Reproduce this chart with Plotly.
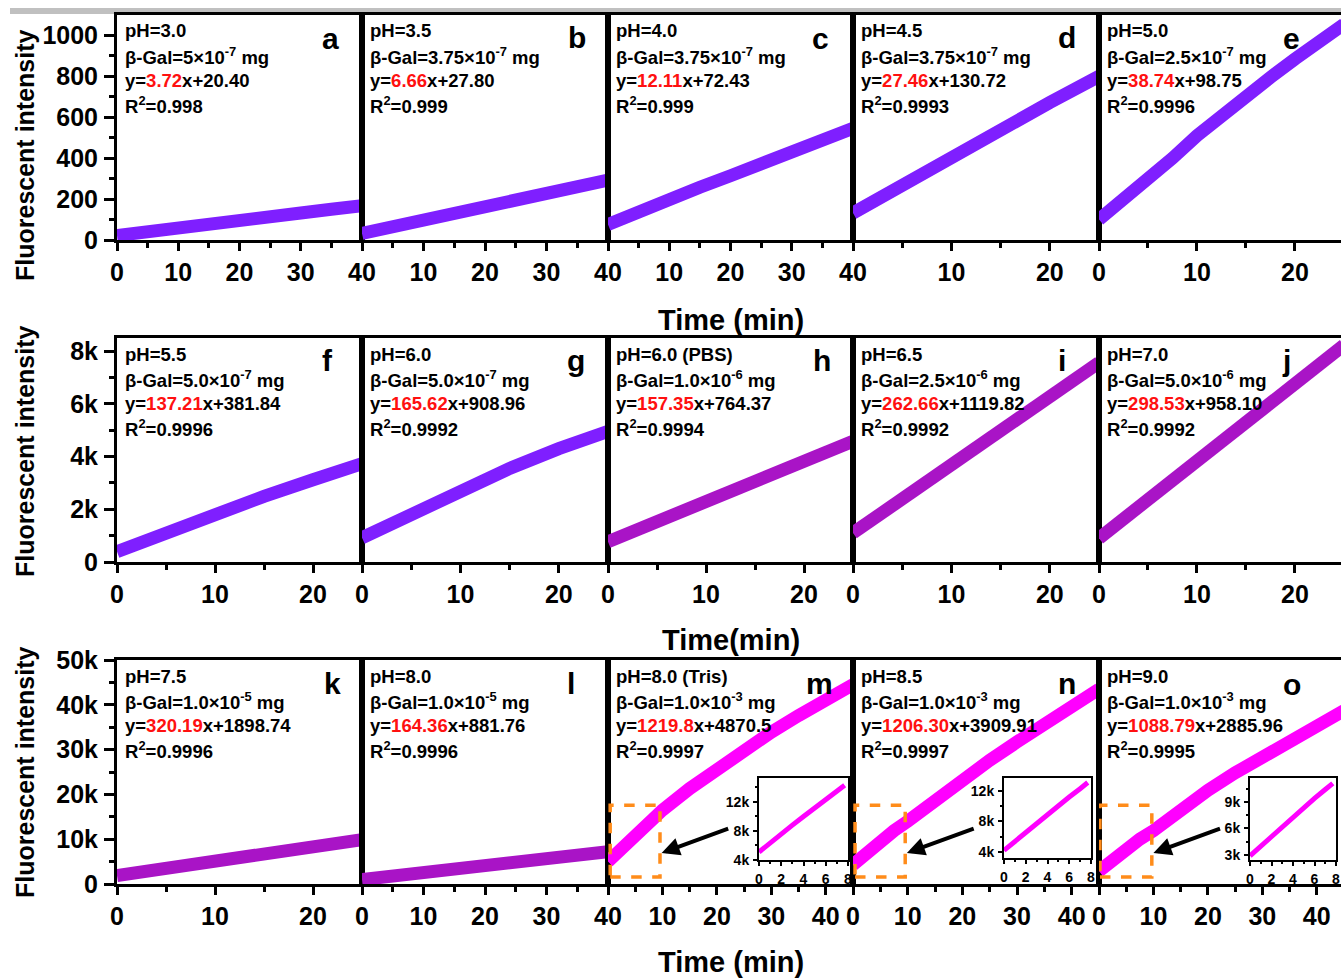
import plotly.graph_objects as go

W, H = 1341, 978

# ---------------- data (time in min, fluorescence intensity) ----------------
t40 = [0, 5, 10, 15, 20, 25, 30, 35, 40]
t25 = [0, 5, 10, 15, 20, 25]
t45 = [0, 2.5, 5, 7.5, 10, 15, 20, 25, 30, 35, 40, 45]
t_e = [0, 1, 2, 3, 4, 5, 7.5, 10, 12.5, 15, 17.5, 20, 22.5, 25]
t_d = [0, 5, 10, 15, 20, 25]
t_inset = [0, 1, 2, 3, 4, 5, 6, 7, 7.7]

y_a = [22, 38, 57, 76, 95, 113, 132, 150, 168]
y_b = [32, 66, 100, 132, 164, 197, 230, 262, 293]
y_c = [76, 142, 200, 258, 314, 370, 430, 490, 546]
y_d = [132, 270, 405, 540, 672, 800]
y_e = [100, 140, 185, 215, 245, 285, 400, 510, 610, 705, 795, 885, 970, 1055]

y_f = [395, 1125, 1820, 2490, 3120, 3735]
y_g = [920, 1840, 2720, 3550, 4300, 4960]
y_h = [770, 1540, 2290, 3030, 3780, 4580]
y_i = [1100, 2400, 3720, 5000, 6290, 7570]
y_j = [900, 2380, 3850, 5320, 6780, 8230]

y_k = [1900, 3500, 5100, 6700, 8300, 9900]
y_l = [1000, 1800, 2600, 3400, 4200, 5000, 5700, 6400, 7200]
y_m = [5000, 8100, 11100, 13900, 16500, 21300, 25800, 30000, 33900, 37600, 41100, 44500]
y_n = [4300, 7000, 9600, 11900, 14000, 18800, 23300, 27600, 31700, 35700, 39600, 43500]
y_o = [2900, 5500, 7900, 10000, 11900, 16600, 20900, 24800, 28500, 32000, 35400, 38700]

# early-time zoom (0-8 min) for m, n, o
yin_m = [5100, 6400, 7600, 8800, 10000, 11200, 12300, 13500, 14300]
yin_n = [4200, 5400, 6600, 7800, 8900, 10000, 11200, 12300, 13100]
yin_o = [2900, 4000, 5100, 6200, 7300, 8400, 9400, 10400, 11100]

# fit labels
ph = ["3.0", "3.5", "4.0", "4.5", "5.0",
      "5.5", "6.0", "6.0 (PBS)", "6.5", "7.0",
      "7.5", "8.0", "8.0 (Tris)", "8.5", "9.0"]
gal = ["5×10<sup>-7</sup>", "3.75×10<sup>-7</sup>", "3.75×10<sup>-7</sup>", "3.75×10<sup>-7</sup>", "2.5×10<sup>-7</sup>",
       "5.0×10<sup>-7</sup>", "5.0×10<sup>-7</sup>", "1.0×10<sup>-6</sup>", "2.5×10<sup>-6</sup>", "5.0×10<sup>-6</sup>",
       "1.0×10<sup>-5</sup>", "1.0×10<sup>-5</sup>", "1.0×10<sup>-3</sup>", "1.0×10<sup>-3</sup>", "1.0×10<sup>-3</sup>"]
slope = ["3.72", "6.66", "12.11", "27.46", "38.74",
         "137.21", "165.62", "157.35", "262.66", "298.53",
         "320.19", "164.36", "1219.8", "1206.30", "1088.79"]
icpt = ["20.40", "27.80", "72.43", "130.72", "98.75",
        "381.84", "908.96", "764.37", "1119.82", "958.10",
        "1898.74", "881.76", "4870.5", "3909.91", "2885.96"]
r2 = ["0.998", "0.999", "0.999", "0.9993", "0.9996",
      "0.9996", "0.9992", "0.9994", "0.9992", "0.9992",
      "0.9996", "0.9996", "0.9997", "0.9997", "0.9995"]
letters = list("abcdefghijklmno")

VIOLET = "#7F1FFF"
PURPLE = "#A914C6"
MAGENTA = "#FF00FF"

series = [
    (t40, y_a, VIOLET), (t40, y_b, VIOLET), (t40, y_c, VIOLET), (t_d, y_d, VIOLET), (t_e, y_e, VIOLET),
    (t25, y_f, VIOLET), (t25, y_g, VIOLET), (t25, y_h, PURPLE), (t25, y_i, PURPLE), (t25, y_j, PURPLE),
    (t25, y_k, PURPLE), (t40, y_l, PURPLE), (t45, y_m, MAGENTA), (t45, y_n, MAGENTA), (t45, y_o, MAGENTA),
]

x_ranges = [[0, 40], [0, 40], [0, 40], [0, 25], [0, 24.7],
            [0, 25], [0, 25], [0, 25], [0, 25], [0, 24.7],
            [0, 25], [0, 40], [0, 45], [0, 45], [0, 44.45]]


def ticks_for(rng, show_zero):
    hi = rng[1]
    vals = [v for v in range(0, 50, 10) if v <= hi + 1e-6]
    text = [("" if (v == 0 and not show_zero) else str(v)) for v in vals]
    minor = [v for v in range(5, 50, 10) if v <= hi]
    return vals, text, minor


show_zero = [True, False, False, False, True,
             True, True, True, True, True,
             True, True, False, True, True]

row_y = [(15, 240), (338, 562), (660, 884)]
col_x = [117, 362, 608, 853, 1099, 1341]

y_ranges = [[0, 1100], [0, 8500], [0, 50000]]
y_ticks = [
    ([0, 200, 400, 600, 800, 1000], ["0", "200", "400", "600", "800", "1000"], [100, 300, 500, 700, 900]),
    ([0, 2000, 4000, 6000, 8000], ["0", "2k", "4k", "6k", "8k"], [1000, 3000, 5000, 7000]),
    ([0, 10000, 20000, 30000, 40000, 50000], ["0", "10k", "20k", "30k", "40k", "50k"],
     [5000, 15000, 25000, 35000, 45000]),
]

FONT = "Liberation Sans, Arial, sans-serif"

fig = go.Figure()
layout = dict(
    width=W, height=H, autosize=False,
    margin=dict(l=0, r=0, t=0, b=0, pad=0),
    paper_bgcolor="white", plot_bgcolor="white",
    showlegend=False,
    font=dict(family=FONT, color="black"),
)


def px_x(x):
    return x / W


def px_y(y):
    return 1 - y / H


annotations = []
shapes = []

for i, (tt, yy, col) in enumerate(series):
    r, c = divmod(i, 5)
    n = i + 1
    xn = "x" if n == 1 else f"x{n}"
    yn = "y" if n == 1 else f"y{n}"
    fig.add_trace(go.Scatter(x=tt, y=yy, mode="lines", xaxis=xn, yaxis=yn,
                             line=dict(color=col, width=13), hoverinfo="skip"))
    vals, text, minor = ticks_for(x_ranges[i], show_zero[i])
    xa = dict(
        domain=[px_x(col_x[c]), px_x(col_x[c + 1])], anchor=yn, range=x_ranges[i], automargin=False,
        showgrid=False, zeroline=False, showline=True, linecolor="black", linewidth=3, mirror=True,
        ticks="outside", ticklen=8, tickwidth=3, tickcolor="black",
        tickvals=vals, ticktext=text, ticklabelstandoff=0,
        tickfont=dict(family=FONT, size=25, color="black", weight="bold"),
        minor=dict(tickvals=minor, ticks="outside", ticklen=5, tickwidth=3, tickcolor="black"),
    )
    yvals, ytext, yminor = y_ticks[r]
    ya = dict(
        domain=[px_y(row_y[r][1]), px_y(row_y[r][0])], anchor=xn, range=y_ranges[r], automargin=False,
        showgrid=False, zeroline=False, showline=True, linecolor="black", linewidth=3,
        mirror=(c < 4),
    )
    if c == 0:
        ya.update(ticks="outside", ticklen=10, tickwidth=3, tickcolor="black",
                  tickvals=yvals, ticktext=ytext, ticklabelstandoff=1,
                  tickfont=dict(family=FONT, size=25, color="black", weight="bold"),
                  minor=dict(tickvals=yminor, ticks="outside", ticklen=5, tickwidth=3, tickcolor="black"))
    else:
        ya.update(ticks="", showticklabels=False)
    layout["xaxis" if n == 1 else f"xaxis{n}"] = xa
    layout["yaxis" if n == 1 else f"yaxis{n}"] = ya

    # fit description text
    lines = [
        f"pH={ph[i]}",
        f"β-Gal={gal[i]} mg",
        f"y=<span style='color:#FF1010'>{slope[i]}</span>x+{icpt[i]}",
        f"R<sup>2</sup>={r2[i]}",
    ]
    top = row_y[r][0]
    for k, (txt, off) in enumerate(zip(lines, [16, 41, 65, 90])):
        annotations.append(dict(
            x=px_x(col_x[c] + 6), y=px_y(top + off), xref="paper", yref="paper",
            xanchor="left", yanchor="middle", text=txt, showarrow=False,
            font=dict(family=FONT, size=18.5, color="black", weight="bold"),
        ))

# panel letters
letter_pos = [(330, 39), (577, 38), (821, 39), (1067, 37), (1291, 39),
              (327, 360), (576, 360), (822, 360), (1062, 360), (1286, 360),
              (332, 683), (571, 683), (819, 683), (1067, 683), (1292, 684)]
for L, (lx, ly) in zip(letters, letter_pos):
    annotations.append(dict(
        x=px_x(lx), y=px_y(ly), xref="paper", yref="paper", xanchor="center", yanchor="middle",
        text=L, showarrow=False, font=dict(family=FONT, size=30, color="black", weight="bold"),
    ))

# inset panels (0-8 min) inside m, n, o
insets = [
    (13, yin_m, (759, 848, 778, 860), [4000, 15300], [4000, 8000, 12000], ["4k", "8k", "12k"], [6000, 10000, 14000]),
    (14, yin_n, (1004, 1091, 778, 858), [3200, 13700], [4000, 8000, 12000], ["4k", "8k", "12k"], [6000, 10000]),
    (15, yin_o, (1250, 1336, 778, 860), [2430, 11700], [3000, 6000, 9000], ["3k", "6k", "9k"], [4500, 7500, 10500]),
]
for j, (parent, yv, (x0, x1, y0, y1), yr, ytv, ytt, ymin) in enumerate(insets):
    n = 16 + j
    fig.add_trace(go.Scatter(x=t_inset, y=yv, mode="lines", xaxis=f"x{n}", yaxis=f"y{n}",
                             line=dict(color=MAGENTA, width=5), hoverinfo="skip"))
    layout[f"xaxis{n}"] = dict(
        domain=[px_x(x0), px_x(x1)], anchor=f"y{n}", range=[0, 8], automargin=False,
        showgrid=False, zeroline=False, showline=True, linecolor="black", linewidth=2, mirror=True,
        ticks="outside", ticklen=4, tickwidth=2, tickcolor="black",
        tickvals=[0, 2, 4, 6, 8], ticklabelstandoff=1, ticklabeloverflow="allow",
        tickfont=dict(family=FONT, size=14, color="black", weight="bold"),
        minor=dict(tickvals=[1, 3, 5, 7], ticks="outside", ticklen=2, tickwidth=2, tickcolor="black"),
    )
    layout[f"yaxis{n}"] = dict(
        domain=[px_y(y1), px_y(y0)], anchor=f"x{n}", range=yr, automargin=False,
        showgrid=False, zeroline=False, showline=True, linecolor="black", linewidth=2, mirror=True,
        ticks="outside", ticklen=4, tickwidth=2, tickcolor="black",
        tickvals=ytv, ticktext=ytt, ticklabelstandoff=1,
        tickfont=dict(family=FONT, size=14, color="black", weight="bold"),
        minor=dict(tickvals=ymin, ticks="outside", ticklen=2, tickwidth=2, tickcolor="black"),
    )

# zoom boxes and arrows pointing from the inset to the early-time region
zoom_boxes = [(13, 0.4, 9.55), (14, 0.37, 9.55), (15, 0.18, 9.7)]
for parent, bx0, bx1 in zoom_boxes:
    shapes.append(dict(type="rect", xref=f"x{parent}", yref=f"y{parent}",
                       x0=bx0, x1=bx1, y0=1560, y1=17600,
                       line=dict(color="#FF8C1A", width=3.5, dash="dash")))
    annotations.append(dict(
        x=bx1 + 0.3, y=6920, ax=bx1 + 12.8, ay=12500,
        xref=f"x{parent}", yref=f"y{parent}", axref=f"x{parent}", ayref=f"y{parent}",
        showarrow=True, arrowhead=2, arrowsize=0.9, arrowwidth=4, arrowcolor="black", text="",
    ))

# axis titles
for yc in [155, 451, 772]:
    annotations.append(dict(
        x=px_x(25), y=px_y(yc), xref="paper", yref="paper", xanchor="center", yanchor="middle",
        text="Fluorescent intensity", textangle=-90, showarrow=False,
        font=dict(family=FONT, size=25, color="black", weight="bold"),
    ))
for yc, txt in [(320, "Time (min)"), (640, "Time(min)"), (962, "Time (min)")]:
    annotations.append(dict(
        x=px_x(731), y=px_y(yc), xref="paper", yref="paper", xanchor="center", yanchor="middle",
        text=txt, showarrow=False,
        font=dict(family=FONT, size=29, color="black", weight="bold"),
    ))

# grey strip along the top edge
shapes.append(dict(type="rect", xref="paper", yref="paper", x0=px_x(10), x1=1,
                   y0=px_y(14), y1=px_y(8), fillcolor="#C0C0C0", line=dict(width=0), layer="below"))

layout["annotations"] = annotations
layout["shapes"] = shapes
fig.update_layout(**layout)

fig.write_html("out.html")
